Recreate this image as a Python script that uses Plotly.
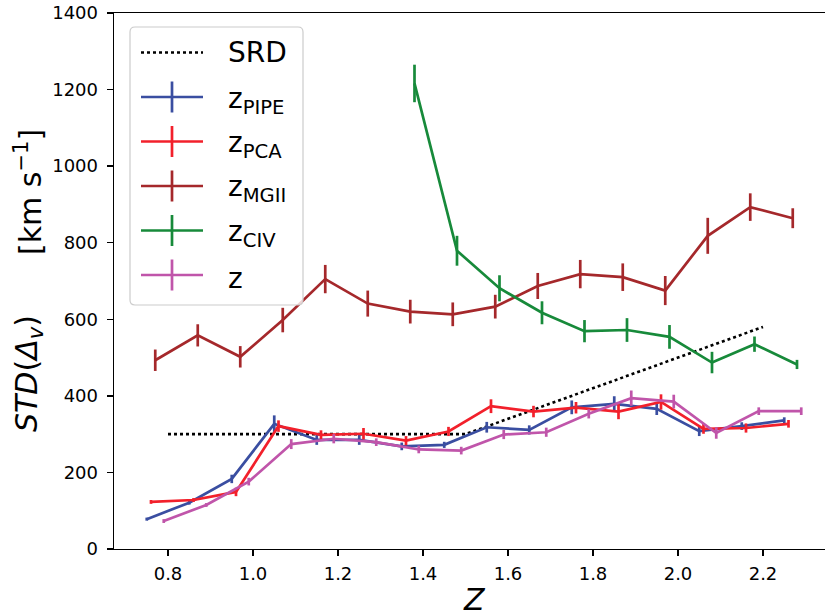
import plotly.graph_objects as go

# ---------------- data ----------------
srd_x = [0.8, 1.5, 2.2]
srd_y = [300, 300, 580]

pipe_x = [0.75, 0.85, 0.95, 1.05, 1.15, 1.25, 1.35, 1.45, 1.55, 1.65, 1.75, 1.85, 1.95, 2.05, 2.15, 2.25]
pipe_y = [78, 121, 183, 327, 285, 285, 268, 272, 318, 311, 370, 379, 366, 308, 321, 336]
pipe_e = [4, 5, 11, 22, 13, 13, 10, 8, 14, 12, 18, 20, 16, 13, 10, 8]

pca_x = [0.76, 0.86, 0.96, 1.06, 1.16, 1.26, 1.36, 1.46, 1.56, 1.66, 1.76, 1.86, 1.96, 2.06, 2.16, 2.26]
pca_y = [123, 128, 149, 321, 298, 301, 283, 307, 373, 359, 369, 359, 384, 314, 316, 327]
pca_e = [5, 5, 11, 15, 12, 15, 12, 12, 18, 15, 15, 20, 20, 13, 12, 10]

mg_x = [0.77, 0.87, 0.97, 1.07, 1.17, 1.27, 1.37, 1.47, 1.57, 1.67, 1.77, 1.87, 1.97, 2.07, 2.17, 2.27]
mg_y = [493, 558, 502, 598, 705, 641, 620, 613, 633, 687, 718, 710, 675, 818, 893, 864]
mg_e = [28, 29, 28, 32, 37, 34, 31, 31, 31, 34, 37, 36, 38, 47, 36, 26]

civ_x = [1.38, 1.48, 1.58, 1.68, 1.78, 1.88, 1.98, 2.08, 2.18, 2.28]
civ_y = [1216, 779, 681, 617, 569, 572, 554, 487, 535, 482]
civ_e = [49, 39, 34, 30, 29, 31, 31, 28, 20, 12]

z_x = [0.79, 0.89, 0.99, 1.09, 1.19, 1.29, 1.39, 1.49, 1.59, 1.69, 1.79, 1.89, 1.99, 2.09, 2.19, 2.29]
z_y = [73, 115, 176, 274, 288, 279, 260, 257, 299, 305, 353, 394, 385, 303, 360, 360]
z_e = [5, 5, 10, 13, 12, 10, 10, 10, 12, 12, 12, 20, 18, 15, 10, 10]

x_ticks = [0.8, 1.0, 1.2, 1.4, 1.6, 1.8, 2.0, 2.2]
y_ticks = [0, 200, 400, 600, 800, 1000, 1200, 1400]

legend_labels = ["SRD", "z<sub>PIPE</sub>", "z<sub>PCA</sub>", "z<sub>MGII</sub>", "z<sub>CIV</sub>", "z"]

# ---------------- style ----------------
C_PIPE = "#3a4ea1"
C_PCA = "#f2202b"
C_MG = "#a5282b"
C_CIV = "#178a3a"
C_Z = "#c055aa"
LW = 2.7
FONT = "DejaVu Sans"

W, H = 825, 616
# plot-area edges in pixels
L, R, T, B = 114, 825, 13, 549


def px(xp):
    return (xp - L) / (R - L)


def py(yp):
    return (B - yp) / (B - T)


fig = go.Figure()

fig.add_trace(go.Scatter(x=srd_x, y=srd_y, mode="lines",
                         line=dict(color="black", width=2.6, dash="dot"),
                         showlegend=False, hoverinfo="skip"))

series = [
    (pipe_x, pipe_y, pipe_e, C_PIPE),
    (pca_x, pca_y, pca_e, C_PCA),
    (mg_x, mg_y, mg_e, C_MG),
    (civ_x, civ_y, civ_e, C_CIV),
    (z_x, z_y, z_e, C_Z),
]
for xs, ys, es, c in series:
    fig.add_trace(go.Scatter(
        x=xs, y=ys, mode="lines",
        line=dict(color=c, width=LW),
        error_y=dict(type="data", array=es, visible=True, width=0,
                     thickness=LW, color=c),
        showlegend=False, hoverinfo="skip"))

# ---------------- manual legend (matplotlib style) ----------------
shapes = []
annotations = []
bx0, bx1, by0, by1 = 130, 303, 27, 305
r = 5
rx = r / (R - L)
ry = r / (B - T)
X0, X1, Y0, Y1 = px(bx0), px(bx1), py(by1), py(by0)
path = (f"M {X0+rx},{Y0} L {X1-rx},{Y0} Q {X1},{Y0} {X1},{Y0+ry} "
        f"L {X1},{Y1-ry} Q {X1},{Y1} {X1-rx},{Y1} L {X0+rx},{Y1} "
        f"Q {X0},{Y1} {X0},{Y1-ry} L {X0},{Y0+ry} Q {X0},{Y0} {X0+rx},{Y0} Z")
shapes.append(dict(type="path", xref="paper", yref="paper", path=path,
                   fillcolor="rgba(255,255,255,0.8)",
                   line=dict(color="#cccccc", width=1.2), layer="above"))

entry_y = [52.5, 97, 141.5, 186, 230.5, 275]
colors = [None, C_PIPE, C_PCA, C_MG, C_CIV, C_Z]
for i, (lab, c) in enumerate(zip(legend_labels, colors)):
    yy = entry_y[i]
    if c is None:
        shapes.append(dict(type="line", xref="paper", yref="paper",
                           x0=px(141), x1=px(203), y0=py(yy), y1=py(yy),
                           line=dict(color="black", width=2.6, dash="dot"),
                           layer="above"))
    else:
        shapes.append(dict(type="line", xref="paper", yref="paper",
                           x0=px(141), x1=px(203), y0=py(yy), y1=py(yy),
                           line=dict(color=c, width=LW), layer="above"))
        shapes.append(dict(type="line", xref="paper", yref="paper",
                           x0=px(172), x1=px(172), y0=py(yy - 15.5), y1=py(yy + 15.5),
                           line=dict(color=c, width=LW), layer="above"))
    annotations.append(dict(text=lab, xref="paper", yref="paper",
                            x=px(226), y=py(yy + (0 if i == 0 else 3)),
                            xanchor="left", yanchor="middle", showarrow=False,
                            font=dict(family=FONT, size=28, color="black")))

# axis titles
annotations.append(dict(text="<i>STD</i>(<i>Δ</i><sub><i>v</i></sub>)", xref="paper", yref="paper",
                        x=px(28), y=py(374), textangle=-90, showarrow=False,
                        xanchor="center", yanchor="middle",
                        font=dict(family=FONT, size=30, color="black")))
annotations.append(dict(text="[km s<sup>−1</sup>]", xref="paper", yref="paper",
                        x=px(28), y=py(192), textangle=-90, showarrow=False,
                        xanchor="center", yanchor="middle",
                        font=dict(family=FONT, size=30, color="black")))
annotations.append(dict(text="<i>Z</i>", xref="paper", yref="paper",
                        x=px(474), y=py(599), showarrow=False,
                        xanchor="center", yanchor="middle",
                        font=dict(family=FONT, size=30, color="black")))

fig.update_layout(
    width=W, height=H,
    margin=dict(l=L, r=W - R, t=T, b=H - B, pad=0),
    paper_bgcolor="white", plot_bgcolor="white",
    showlegend=False,
    hovermode=False,
    font=dict(family=FONT, size=18, color="black"),
    xaxis=dict(range=[0.8 - (168 - L) / 425, 0.8 + (R - 168) / 425],
               tickvals=x_ticks, ticktext=[f"{v:.1f}" for v in x_ticks],
               ticks="outside", ticklen=6, tickwidth=1.3, tickcolor="black",
               showline=True, linecolor="black", linewidth=1.4, mirror=True,
               showgrid=False, zeroline=False, ticklabelstandoff=2,
               tickfont=dict(family=FONT, size=18, color="black")),
    yaxis=dict(range=[0, 1400], tickvals=y_ticks,
               ticks="outside", ticklen=6, tickwidth=1.3, tickcolor="black",
               showline=True, linecolor="black", linewidth=1.4, mirror=False,
               showgrid=False, zeroline=False, ticklabelstandoff=5,
               tickfont=dict(family=FONT, size=18, color="black")),
    shapes=shapes,
    annotations=annotations,
)

# remove the default 8px page margin so the 825x616 figure fills the window
fig.write_html("out.html",
               config={"displayModeBar": False, "staticPlot": True},
               post_script="document.body.style.margin='0px';document.body.style.overflow='hidden';")
